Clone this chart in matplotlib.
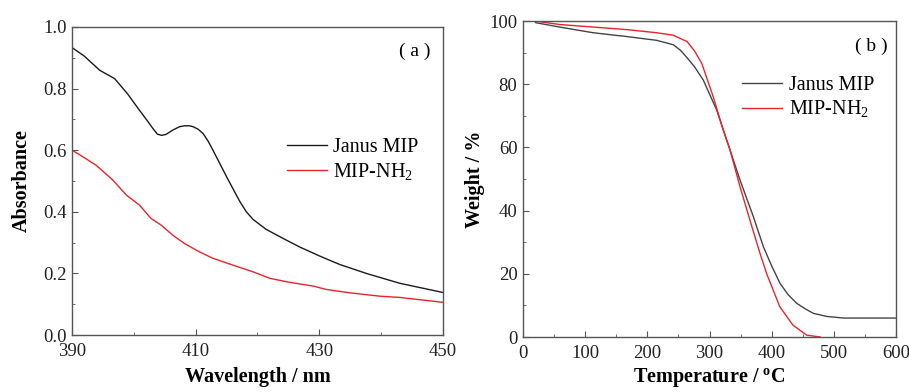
import matplotlib
matplotlib.use("Agg")
import matplotlib.pyplot as plt
from matplotlib.ticker import MultipleLocator

plt.rcParams['font.family'] = ['Liberation Serif', 'DejaVu Serif']
plt.rcParams['mathtext.fontset'] = 'custom'
plt.rcParams['mathtext.rm'] = 'Liberation Serif'
plt.rcParams['mathtext.bf'] = 'Liberation Serif:bold'

# Panel (a): UV-vis absorbance
wl_janus = [390, 392, 394.5, 396.9, 398.9, 400.9, 402.2, 403.1, 403.8, 404.5, 405.2, 406.3, 407.4, 408.2,
            409.0, 409.6, 410.4, 411.2, 412.0, 412.8, 415.0, 417.1, 418.2, 419.3, 421.4, 424.1, 426.8,
            430.1, 433.3, 437.6, 443.0, 450]
abs_janus = [0.933, 0.905, 0.859, 0.832, 0.785, 0.730, 0.695, 0.670, 0.652, 0.648, 0.651, 0.665, 0.676, 0.679,
             0.679, 0.676, 0.668, 0.654, 0.630, 0.600, 0.514, 0.435, 0.400, 0.375, 0.343, 0.314, 0.286,
             0.256, 0.229, 0.200, 0.168, 0.138]
wl_nh2 = [390, 391.8, 393.9, 396.6, 398.8, 400.9, 402.8, 404.4, 406.3, 408.2, 410.6, 412.8, 416.0,
          419.3, 422.0, 425.2, 429.0, 431.1, 434.9, 439.8, 443.0, 450]
abs_nh2 = [0.600, 0.578, 0.551, 0.503, 0.454, 0.422, 0.378, 0.357, 0.324, 0.297, 0.270, 0.249, 0.227,
           0.205, 0.184, 0.171, 0.159, 0.148, 0.137, 0.126, 0.122, 0.106]

# Panel (b): TGA
t_janus = [20, 59, 112.8, 166.5, 214.9, 241.7, 253, 263, 276, 290, 311.6, 333, 349, 370.5, 386.6,
           400, 413.4, 426, 440, 455, 467, 488.8, 515.7, 600]
w_janus = [99.5, 98.1, 96.3, 95.1, 93.9, 92.5, 90.8, 88.6, 85.5, 81.3, 71.8, 59.2, 49.7, 38.1, 28.6,
           22.5, 17.0, 13.5, 10.7, 8.8, 7.5, 6.5, 6.0, 6.0]
t_nh2 = [20, 59, 112.8, 166.5, 214.9, 241.7, 264, 276, 287.5, 306, 322, 333, 349, 365, 381, 392,
         413, 434, 456, 478]
w_nh2 = [100, 98.9, 98.1, 97.3, 96.3, 95.5, 93.5, 90.5, 86.6, 76.0, 65.5, 59.2, 47.6, 37.0, 26.6, 20.0,
         9.6, 3.8, 0.6, 0.0]

labels = ['Janus MIP', r'MIP-NH$_2$']

fig = plt.figure(figsize=(9.09, 3.92), dpi=100)
ax1 = fig.add_axes([0.0792, 0.1454, 0.408, 0.786])
ax2 = fig.add_axes([0.5754, 0.1403, 0.4103, 0.806])

spine_col = '#555555'

def style(ax):
    for s in ax.spines.values():
        s.set_color(spine_col)
        s.set_linewidth(1.0)
    ax.tick_params(which='both', direction='in', colors=spine_col, labelcolor='#222222',
                   labelsize=13.5, top=False, right=False)
    ax.tick_params(which='major', length=4)
    ax.tick_params(which='minor', length=2.5)
    ax.tick_params(axis='x', which='major', pad=6)
    ax.tick_params(axis='y', which='major', pad=4)

ax1.plot(wl_janus, abs_janus, color='#1a1a1a', lw=1.0, label=labels[0])
ax1.plot(wl_nh2, abs_nh2, color='#e8242a', lw=1.0, label=labels[1])
ax1.set_xlim(390, 450)
ax1.set_ylim(0, 1.0)
ax1.set_xticks([390, 410, 430, 450])
ax1.xaxis.set_minor_locator(MultipleLocator(10))
ax1.set_yticks([0, 0.2, 0.4, 0.6, 0.8, 1.0])
ax1.set_yticklabels(['0.0', '0.2', '0.4', '0.6', '0.8', '1.0'])
ax1.yaxis.set_minor_locator(MultipleLocator(0.1))
style(ax1)
ax1.set_xlabel('Wavelength / nm', fontsize=14.5, fontweight='bold', labelpad=5)
ax1.set_ylabel('Absorbance', fontsize=14.5, fontweight='bold', labelpad=8)
ax1.text(0.925, 0.92, '( a )', transform=ax1.transAxes, fontsize=14, ha='center', va='center')
ax1.legend(loc='upper left', bbox_to_anchor=(0.557, 0.665), frameon=False, fontsize=14.5,
           handlelength=2.0, handletextpad=0.3, labelspacing=0.2, borderaxespad=0)

ax2.plot(t_janus, w_janus, color='#444444', lw=1.0, label=labels[0])
ax2.plot(t_nh2, w_nh2, color='#e8242a', lw=1.0, label=labels[1])
ax2.set_xlim(0, 600)
ax2.set_ylim(0, 100)
ax2.xaxis.set_major_locator(MultipleLocator(100))
ax2.xaxis.set_minor_locator(MultipleLocator(50))
ax2.yaxis.set_major_locator(MultipleLocator(20))
ax2.yaxis.set_minor_locator(MultipleLocator(10))
style(ax2)
ax2.set_xlabel(r'Temperature / $^{\mathbf{o}}$C', fontsize=14.5, fontweight='bold', labelpad=3)
ax2.set_ylabel('Weight / %', fontsize=14.5, fontweight='bold', labelpad=3)
ax2.text(0.935, 0.92, '( b )', transform=ax2.transAxes, fontsize=14, ha='center', va='center')
ax2.legend(loc='upper left', bbox_to_anchor=(0.566, 0.852), frameon=False, fontsize=14.5,
           handlelength=2.0, handletextpad=0.3, labelspacing=0.2, borderaxespad=0)

fig.savefig('out.png', dpi=100)
